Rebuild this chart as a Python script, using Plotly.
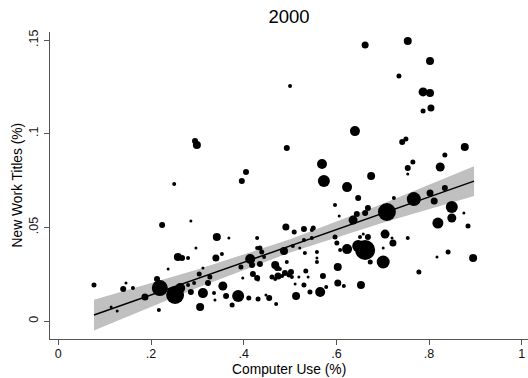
import plotly.graph_objects as go

# ---- data (x = computer use share, y = new work titles share, w = weight) ----
x_use = [0.662, 0.500, 0.640, 0.754, 0.802, 0.735, 0.787, 0.802, 0.804, 0.787,
         0.295, 0.299, 0.250, 0.224, 0.286, 0.493, 0.569, 0.573, 0.405, 0.396,
         0.623, 0.647, 0.597, 0.606, 0.636, 0.644, 0.662, 0.491, 0.509, 0.530,
         0.550, 0.547, 0.342, 0.368, 0.429, 0.651, 0.597, 0.742, 0.750, 0.877,
         0.834, 0.765, 0.754, 0.754, 0.824, 0.675, 0.724, 0.767, 0.802, 0.834,
         0.811, 0.709, 0.668, 0.849, 0.849, 0.875, 0.819, 0.884, 0.705, 0.668,
         0.754, 0.720, 0.077, 0.146, 0.140, 0.161, 0.114, 0.127, 0.187, 0.217,
         0.213, 0.219, 0.252, 0.263, 0.258, 0.267, 0.280, 0.237, 0.297, 0.306,
         0.312, 0.286, 0.280, 0.304, 0.312, 0.327, 0.323, 0.340, 0.336, 0.293,
         0.353, 0.338, 0.355, 0.362, 0.375, 0.388, 0.411, 0.431, 0.448, 0.455,
         0.470, 0.394, 0.398, 0.414, 0.418, 0.429, 0.435, 0.439, 0.444, 0.435,
         0.420, 0.429, 0.431, 0.468, 0.472, 0.478, 0.461, 0.468, 0.474, 0.483,
         0.489, 0.498, 0.502, 0.504, 0.487, 0.493, 0.506, 0.519, 0.511, 0.521,
         0.534, 0.539, 0.532, 0.530, 0.558, 0.558, 0.558, 0.571, 0.530, 0.543,
         0.513, 0.565, 0.578, 0.603, 0.601, 0.608, 0.623, 0.662, 0.647, 0.603,
         0.616, 0.653, 0.722, 0.701, 0.701, 0.673, 0.778, 0.817, 0.841, 0.895,
         0.547, 0.658]
y_new = [0.1474, 0.1255, 0.1014, 0.1495, 0.1388, 0.1308, 0.1223, 0.1217, 0.1137, 0.1121,
         0.0961, 0.0940, 0.0731, 0.0513, 0.0534, 0.0924, 0.0838, 0.0747, 0.0796, 0.0747,
         0.0715, 0.0657, 0.0619, 0.0561, 0.0539, 0.0571, 0.0577, 0.0502, 0.0475, 0.0491,
         0.0497, 0.0486, 0.0448, 0.0443, 0.0443, 0.0448, 0.0448, 0.0956, 0.0972, 0.0929,
         0.0886, 0.0849, 0.0817, 0.0785, 0.0822, 0.0774, 0.0657, 0.0651, 0.0683, 0.0710,
         0.0641, 0.0582, 0.0603, 0.0609, 0.0550, 0.0577, 0.0523, 0.0507, 0.0464, 0.0448,
         0.0443, 0.0443, 0.0192, 0.0203, 0.0171, 0.0176, 0.0075, 0.0053, 0.0128, 0.0059,
         0.0224, 0.0176, 0.0139, 0.0176, 0.0342, 0.0336, 0.0336, 0.0278, 0.0390, 0.0075,
         0.0149, 0.0155, 0.0192, 0.0251, 0.0283, 0.0235, 0.0203, 0.0336, 0.0149, 0.0203,
         0.0358, 0.0112, 0.0187, 0.0133, 0.0085, 0.0133, 0.0123, 0.0117, 0.0139, 0.0123,
         0.0091, 0.0288, 0.0230, 0.0331, 0.0299, 0.0390, 0.0390, 0.0368, 0.0342, 0.0304,
         0.0251, 0.0230, 0.0219, 0.0299, 0.0283, 0.0278, 0.0235, 0.0224, 0.0240, 0.0240,
         0.0256, 0.0246, 0.0262, 0.0235, 0.0374, 0.0315, 0.0400, 0.0235, 0.0198, 0.0390,
         0.0267, 0.0235, 0.0363, 0.0432, 0.0368, 0.0336, 0.0315, 0.0240, 0.0192, 0.0155,
         0.0133, 0.0155, 0.0182, 0.0288, 0.0416, 0.0379, 0.0384, 0.0379, 0.0400, 0.0203,
         0.0187, 0.0192, 0.0416, 0.0315, 0.0390, 0.0315, 0.0262, 0.0342, 0.0368, 0.0336,
         0.0443, 0.0464]
w_emp = [49, 16, 100, 64, 64, 25, 81, 64, 49, 25,
         36, 64, 16, 36, 9, 36, 100, 144, 36, 36,
         100, 36, 16, 9, 81, 36, 36, 49, 25, 36,
         25, 16, 64, 9, 16, 16, 25, 36, 25, 64,
         25, 25, 36, 9, 81, 64, 16, 196, 49, 36,
         49, 324, 36, 144, 81, 9, 121, 25, 81, 36,
         16, 9, 25, 9, 36, 16, 9, 9, 49, 16,
         36, 256, 324, 100, 64, 36, 16, 9, 9, 64,
         100, 36, 16, 25, 9, 25, 36, 49, 16, 16,
         16, 9, 81, 36, 25, 144, 25, 25, 9, 36,
         16, 25, 9, 100, 36, 16, 25, 25, 16, 36,
         36, 36, 9, 64, 36, 16, 25, 16, 49, 16,
         36, 25, 36, 16, 64, 16, 16, 9, 9, 9,
         25, 9, 16, 16, 16, 9, 16, 36, 25, 25,
         64, 100, 16, 64, 25, 16, 100, 400, 144, 49,
         16, 64, 49, 169, 9, 25, 25, 9, 25, 64,
         16, 9]

# fitted line and its confidence band
fit_x = [0.077, 0.897]
fit_y = [0.0032, 0.0747]
ci_x = [0.077, 0.3, 0.5, 0.7, 0.897]
ci_hi = [0.0114, 0.0275, 0.0436, 0.0626, 0.0826]
ci_lo = [-0.0050, 0.0177, 0.0366, 0.0524, 0.0668]

x_ticks = [0, 0.2, 0.4, 0.6, 0.8, 1]
x_ticktext = ["0", ".2", ".4", ".6", ".8", "1"]
y_ticks = [0, 0.05, 0.1, 0.15]
y_ticktext = ["0", ".05", ".1", ".15"]

FONT = "Liberation Sans, Arial, sans-serif"
AXIS_COL = "#555555"

fig = go.Figure()
fig.add_trace(go.Scatter(
    x=ci_x + ci_x[::-1], y=ci_hi + ci_lo[::-1],
    fill="toself", fillcolor="#c0c0c0", line=dict(width=0),
    mode="lines", hoverinfo="skip"))
fig.add_trace(go.Scatter(
    x=x_use, y=y_new, mode="markers",
    marker=dict(size=w_emp, sizemode="area", sizeref=2, color="black",
                line=dict(width=0), opacity=1)))
fig.add_trace(go.Scatter(
    x=fit_x, y=fit_y, mode="lines", line=dict(color="black", width=1.5)))

axis_common = dict(ticks="outside", ticklen=5, tickcolor=AXIS_COL, tickwidth=1,
                   showline=True, linecolor=AXIS_COL, linewidth=1,
                   showgrid=False, zeroline=False, automargin=False,
                   tickfont=dict(size=12.5, color="#111111"))

fig.update_layout(
    width=528, height=378,
    margin=dict(l=50, r=0, t=32, b=39, autoexpand=False),
    plot_bgcolor="white", paper_bgcolor="white",
    showlegend=False,
    font=dict(family=FONT, color="black", size=12.5),
    title=dict(text="2000", x=0.5, xref="paper", xanchor="center",
               y=1 - 17 / 378, yref="container", yanchor="middle",
               font=dict(size=18.5, family=FONT, color="black")),
    xaxis=dict(range=[-0.0179, 1.0134], tickvals=x_ticks, ticktext=x_ticktext,
               ticklabelstandoff=-2, **axis_common),
    yaxis=dict(range=[-0.0096, 0.1543], tickvals=y_ticks, ticktext=y_ticktext,
               tickangle=-90, ticklabelstandoff=1, **axis_common),
    annotations=[
        dict(text="New Work Titles (%)", xref="paper", yref="paper",
             x=(17 - 50) / 478, y=0.5, xanchor="center", yanchor="middle",
             textangle=-90, showarrow=False, font=dict(size=13.8, color="black")),
        dict(text="Computer Use (%)", xref="paper", yref="paper",
             x=0.5, y=(339 - 369) / 307, xanchor="center", yanchor="middle",
             showarrow=False, font=dict(size=13.8, color="black")),
    ],
)

fig.write_html("out.html",
               config={"displayModeBar": False},
               post_script="document.body.style.margin='0px';document.body.style.padding='0px';")
